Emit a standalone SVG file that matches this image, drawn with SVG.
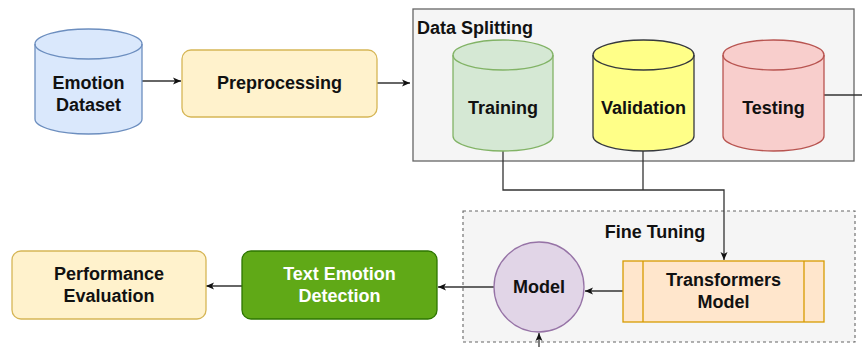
<svg xmlns="http://www.w3.org/2000/svg" width="862" height="347" viewBox="0 0 862 347">
<style>
text{font-family:"Liberation Sans",Arial,sans-serif;font-weight:bold;font-size:18px;fill:#111;text-anchor:middle;dominant-baseline:central}
.ln{fill:none;stroke:#333;stroke-width:1.3}
</style>
<defs>
<marker id="ah" markerWidth="10" markerHeight="10" refX="9" refY="5" orient="auto" markerUnits="userSpaceOnUse">
<path d="M1,1.5 L9,5 L1,8.5 L3,5 Z" fill="#111"/>
</marker>
</defs>
<rect width="862" height="347" fill="#fff"/>
<g id="data-splitting">
<rect x="413" y="9" width="441" height="152" fill="#f5f5f5" stroke="#666" stroke-width="1.3"/>
<text x="417" y="28" style="text-anchor:start">Data Splitting</text>
</g>
<g id="fine-tuning">
<rect x="463" y="211" width="392" height="131" fill="#f5f5f5" stroke="#666" stroke-width="1.1" stroke-dasharray="3,3"/>
<text x="655" y="232">Fine Tuning</text>
</g>
<g id="connectors">
<path class="ln" d="M142,81 H181" marker-end="url(#ah)"/>
<path class="ln" d="M377,83 H410" marker-end="url(#ah)"/>
<path class="ln" d="M824,95 H862"/>
<path class="ln" d="M503,151 V190 H724 V260" marker-end="url(#ah)"/>
<path class="ln" d="M643,151 V190"/>
<path class="ln" d="M623,291 H585" marker-end="url(#ah)"/>
<path class="ln" d="M494,287 H438" marker-end="url(#ah)"/>
<path class="ln" d="M242,286 H206" marker-end="url(#ah)"/>
<path class="ln" d="M539,347 V333" marker-end="url(#ah)"/>
</g>
<g id="emotion-dataset">
<path d="M35,44 A53.5,15 0 0 1 142,44 V119 A53.5,15 0 0 1 35,119 Z" fill="#dae8fc" stroke="#6c8ebf" stroke-width="1.3"/>
<path d="M35,44 A53.5,15 0 0 0 142,44" fill="none" stroke="#6c8ebf" stroke-width="1.3"/>
<text x="88.5" y="83">Emotion</text>
<text x="88.5" y="105">Dataset</text>
</g>
<g id="preprocessing">
<rect x="182" y="50" width="195" height="67" rx="9" fill="#fff2cc" stroke="#d6b656" stroke-width="1.3"/>
<text x="279.5" y="83">Preprocessing</text>
</g>
<g id="training">
<path d="M453,55 A50,15 0 0 1 553,55 V136 A50,15 0 0 1 453,136 Z" fill="#d5e8d4" stroke="#82b366" stroke-width="1.3"/>
<path d="M453,55 A50,15 0 0 0 553,55" fill="none" stroke="#82b366" stroke-width="1.3"/>
<text x="503" y="108">Training</text>
</g>
<g id="validation">
<path d="M593,55 A50.5,15 0 0 1 694,55 V136 A50.5,15 0 0 1 593,136 Z" fill="#ffff88" stroke="#36393d" stroke-width="1.3"/>
<path d="M593,55 A50.5,15 0 0 0 694,55" fill="none" stroke="#36393d" stroke-width="1.3"/>
<text x="643.5" y="108">Validation</text>
</g>
<g id="testing">
<path d="M723,55 A50.5,15 0 0 1 824,55 V136 A50.5,15 0 0 1 723,136 Z" fill="#f8cecc" stroke="#b85450" stroke-width="1.3"/>
<path d="M723,55 A50.5,15 0 0 0 824,55" fill="none" stroke="#b85450" stroke-width="1.3"/>
<text x="773.5" y="108">Testing</text>
</g>
<g id="transformers-model">
<rect x="623" y="261" width="201" height="61" fill="#ffe6cc" stroke="#d79b00" stroke-width="1.3"/>
<path d="M643,261 V322 M804,261 V322" stroke="#d79b00" stroke-width="1.3"/>
<text x="723.5" y="280">Transformers</text>
<text x="723.5" y="302">Model</text>
</g>
<g id="model">
<circle cx="539" cy="287" r="45" fill="#e1d5e7" stroke="#9673a6" stroke-width="1.3"/>
<text x="539" y="287">Model</text>
</g>
<g id="text-emotion-detection">
<rect x="242" y="251" width="195" height="68" rx="9" fill="#60a917" stroke="#2d7600" stroke-width="1.3"/>
<text x="339.5" y="274" style="fill:#fff">Text Emotion</text>
<text x="339.5" y="296" style="fill:#fff">Detection</text>
</g>
<g id="performance-evaluation">
<rect x="12" y="251" width="194" height="68" rx="9" fill="#fff2cc" stroke="#d6b656" stroke-width="1.3"/>
<text x="109" y="274">Performance</text>
<text x="109" y="296">Evaluation</text>
</g>
</svg>
